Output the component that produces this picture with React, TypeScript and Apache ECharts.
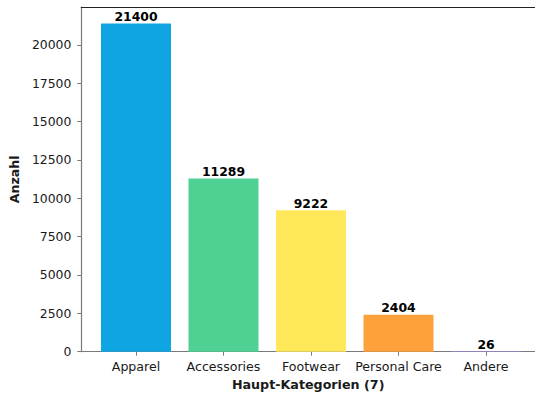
import React, { useEffect, useRef } from "react";
import * as echarts from "echarts";

// Category counts
const categories = ["Apparel", "Accessories", "Footwear", "Personal Care", "Andere"];
const counts = [21400, 11289, 9222, 2404, 26];
const barColors = ["#0EA5E2", "#4FD193", "#FFE95B", "#FFA13B", "#A78BFA"];
const yTicks = { min: 0, max: 22470, interval: 2500 };
const xTitle = "Haupt-Kategorien (7)";
const yTitle = "Anzahl";

const FONT = "DejaVu Sans";
const SPINE = "#7a7a7a";
const TEXT = "#1a1a1a";

// Outer frame: 5 bands of width 1 with 0.14 padding on each side -> 5.28 units
const BAND = 87.5;
const PLOT_LEFT = 80;
const PLOT_TOP = 7;
const PLOT_BOTTOM = 44.3;
const FRAME_W = 5.28 * BAND;
const BAR_LEFT = PLOT_LEFT + 0.14 * BAND;
const BAR_W = 5 * BAND;

export default function App() {
  const ref = useRef<HTMLDivElement>(null);

  useEffect(() => {
    if (!ref.current) return;
    const chart = echarts.init(ref.current, undefined, { renderer: "svg" });
    chart.setOption({
      animation: false,
      backgroundColor: "#ffffff",
      textStyle: { fontFamily: FONT },
      grid: [
        { left: PLOT_LEFT, top: PLOT_TOP, bottom: PLOT_BOTTOM, width: FRAME_W },
        { left: BAR_LEFT, top: PLOT_TOP, bottom: PLOT_BOTTOM, width: BAR_W },
      ],
      xAxis: [
        {
          gridIndex: 0,
          type: "value",
          min: -0.64,
          max: 4.64,
          position: "bottom",
          axisLine: { show: true, onZero: false, lineStyle: { color: SPINE, width: 1.2 } },
          axisTick: { show: false },
          axisLabel: { show: false },
          splitLine: { show: false },
          name: xTitle,
          nameLocation: "middle",
          nameGap: 26,
          nameTextStyle: { fontFamily: FONT, fontWeight: "bold", fontSize: 12.7, color: TEXT },
        },
        {
          gridIndex: 1,
          type: "category",
          data: categories,
          position: "bottom",
          axisLine: { show: false, onZero: false },
          axisTick: { show: true, alignWithLabel: true, length: 4, lineStyle: { color: SPINE } },
          axisLabel: { interval: 0, margin: 8, fontFamily: FONT, fontSize: 12.6, color: TEXT },
          splitLine: { show: false },
        },
        {
          gridIndex: 0,
          type: "value",
          min: -0.64,
          max: 4.64,
          position: "top",
          axisLine: { show: true, onZero: false, lineStyle: { color: "#222222", width: 1.2 } },
          axisTick: { show: false },
          axisLabel: { show: false },
          splitLine: { show: false },
        },
      ],
      yAxis: [
        {
          gridIndex: 0,
          type: "value",
          min: yTicks.min,
          max: yTicks.max,
          interval: yTicks.interval,
          position: "left",
          axisLine: { show: true, onZero: false, lineStyle: { color: SPINE, width: 1.2 } },
          axisTick: { show: true, length: 4, lineStyle: { color: SPINE } },
          axisLabel: {
            margin: 10,
            fontFamily: FONT,
            fontSize: 12.4,
            color: TEXT,
            showMaxLabel: false,
            formatter: (v: number) => String(v),
          },
          splitLine: { show: false },
          name: yTitle,
          nameLocation: "middle",
          nameGap: 54,
          nameRotate: 90,
          nameTextStyle: { fontFamily: FONT, fontWeight: "bold", fontSize: 12.6, color: TEXT },
        },
        {
          gridIndex: 1,
          type: "value",
          min: yTicks.min,
          max: yTicks.max,
          show: false,
          axisLine: { onZero: false },
          splitLine: { show: false },
        },
      ],
      series: [
        {
          type: "bar",
          xAxisIndex: 1,
          yAxisIndex: 1,
          barWidth: "80%",
          data: counts.map((v, i) => ({ value: v, itemStyle: { color: barColors[i] } })),
          label: {
            show: true,
            position: "top",
            distance: 1,
            fontFamily: FONT,
            fontWeight: "bold",
            fontSize: 12.4,
            color: "#000000",
          },
        },
      ],
    });
    return () => chart.dispose();
  }, []);

  return (
    <div
      ref={ref}
      style={{ position: "fixed", left: 0, top: 0, width: 535, height: 396, background: "#fff" }}
    />
  );
}
